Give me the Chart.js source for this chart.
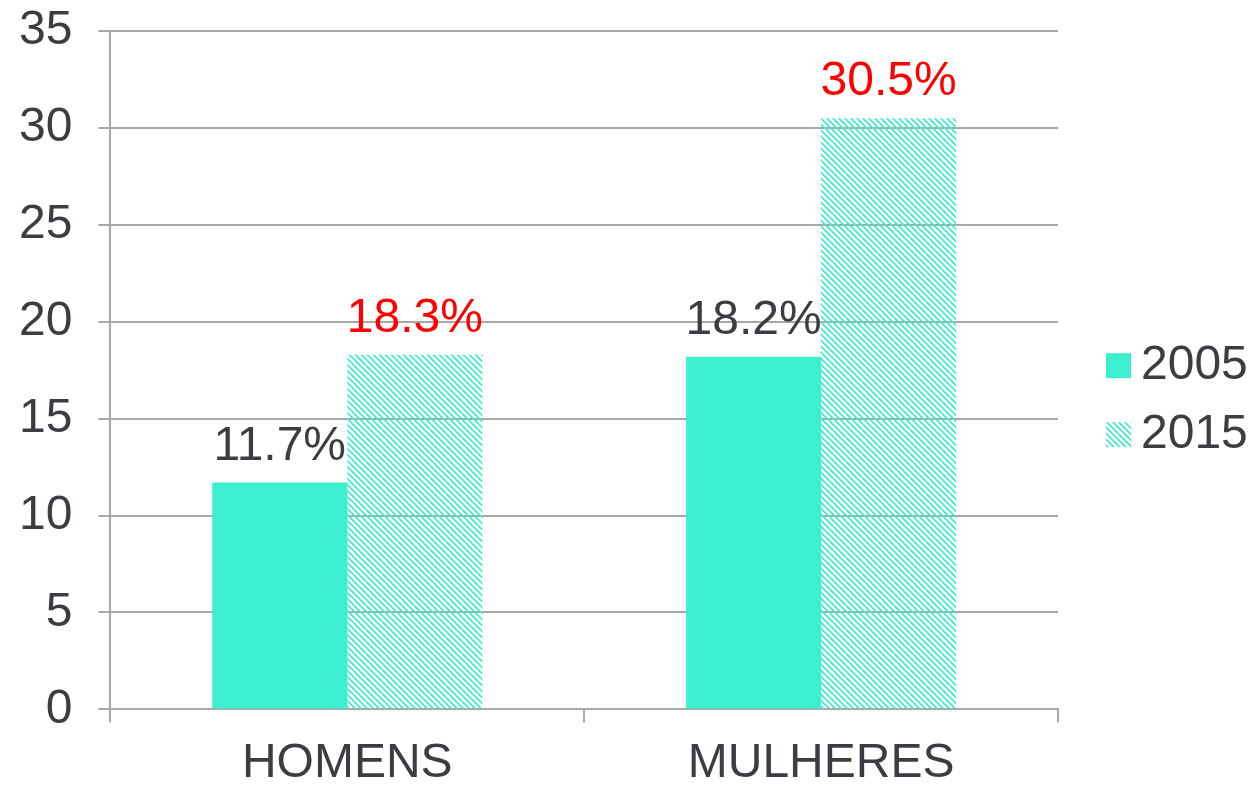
<!DOCTYPE html>
<html>
<head>
<meta charset="utf-8">
<script src="https://cdn.jsdelivr.net/npm/chart.js@4/dist/chart.umd.min.js"></script>
<style>
  html, body { margin: 0; padding: 0; background: #fff; }
  #wrap { width: 1252px; height: 786px; }
</style>
</head>
<body>
<div id="wrap"><canvas id="chart" width="1252" height="786"></canvas></div>
<script>
// chart data
const categories = ['HOMENS', 'MULHERES'];
const years = ['2005', '2015'];
const values2005 = [11.7, 18.2];
const values2015 = [18.3, 30.5];
const yTicks = [0, 5, 10, 15, 20, 25, 30, 35];

const teal = '#3cefcf';
const textColor = '#3a3d41';
const gridColor = '#a8a8a8';
const font = "'Liberation Sans', Arial, sans-serif";
const fontSize = 48;

// diagonal hatch for the 2015 bars
function makeHatch() {
  const c = document.createElement('canvas');
  c.width = 6;
  c.height = 6;
  const g = c.getContext('2d');
  for (let i = 0; i < 6; i++) {
    g.fillStyle = teal;
    g.fillRect(i, i, 1, 1);
    g.fillRect((i + 1) % 6, i, 1, 1);
    g.fillStyle = 'rgba(60,239,207,0.4)';
    g.fillRect((i + 2) % 6, i, 1, 1);
  }
  return g.createPattern(c, 'repeat');
}
const hatch = makeHatch();
const fills = [teal, hatch];

// value labels above each bar
const labelColors = [textColor, '#ff0000'];
const barLabels = {
  id: 'barLabels',
  afterDatasetsDraw(chart) {
    const ctx = chart.ctx;
    ctx.save();
    ctx.font = fontSize + 'px ' + font;
    ctx.textAlign = 'center';
    ctx.textBaseline = 'alphabetic';
    chart.data.datasets.forEach((ds, i) => {
      chart.getDatasetMeta(i).data.forEach((bar, j) => {
        ctx.fillStyle = labelColors[i];
        ctx.fillText(ds.data[j].toFixed(1) + '%', bar.x, bar.y - 23);
      });
    });
    ctx.restore();
  }
};

// legend on the right, tighter box/text gap than the built-in one
const sideLegend = {
  id: 'sideLegend',
  afterDraw(chart) {
    const ctx = chart.ctx;
    const area = chart.chartArea;
    const x = area.right + 48;
    const mid = (area.top + area.bottom) / 2;
    const rows = [mid - 5, mid + 64];
    ctx.save();
    ctx.font = fontSize + 'px ' + font;
    ctx.textBaseline = 'middle';
    ctx.textAlign = 'left';
    years.forEach((y, i) => {
      ctx.fillStyle = fills[i];
      ctx.fillRect(x, rows[i] - 12, 25, 25);
      ctx.fillStyle = textColor;
      ctx.fillText(y, x + 35, rows[i] + 1);
    });
    ctx.restore();
  }
};

new Chart(document.getElementById('chart'), {
  type: 'bar',
  data: {
    labels: categories,
    datasets: [
      { label: years[0], data: values2005, backgroundColor: fills[0] },
      { label: years[1], data: values2015, backgroundColor: fills[1] }
    ]
  },
  options: {
    responsive: false,
    animation: false,
    categoryPercentage: 0.57,
    barPercentage: 1,
    layout: { padding: { left: -7, top: 0, right: 194, bottom: -20 } },
    plugins: {
      tooltip: { enabled: false },
      legend: { display: false }
    },
    scales: {
      x: {
        grid: { offset: true, drawOnChartArea: false, color: gridColor, lineWidth: 2, tickLength: 13 },
        border: { display: true, color: gridColor, width: 2 },
        ticks: { color: textColor, padding: 13, font: { family: font, size: fontSize } }
      },
      y: {
        min: 0,
        max: 35,
        afterBuildTicks: axis => { axis.ticks = yTicks.map(v => ({ value: v })); },
        // the wide label gap should not push the plot down from the top
        afterFit: axis => { axis.paddingTop = 31; axis.paddingBottom = 0; },
        grid: { color: gridColor, lineWidth: 2, tickLength: 12 },
        border: { display: true, color: gridColor, width: 2 },
        ticks: { color: textColor, padding: 26, font: { family: font, size: fontSize } }
      }
    }
  },
  plugins: [barLabels, sideLegend]
});
</script>
</body>
</html>
